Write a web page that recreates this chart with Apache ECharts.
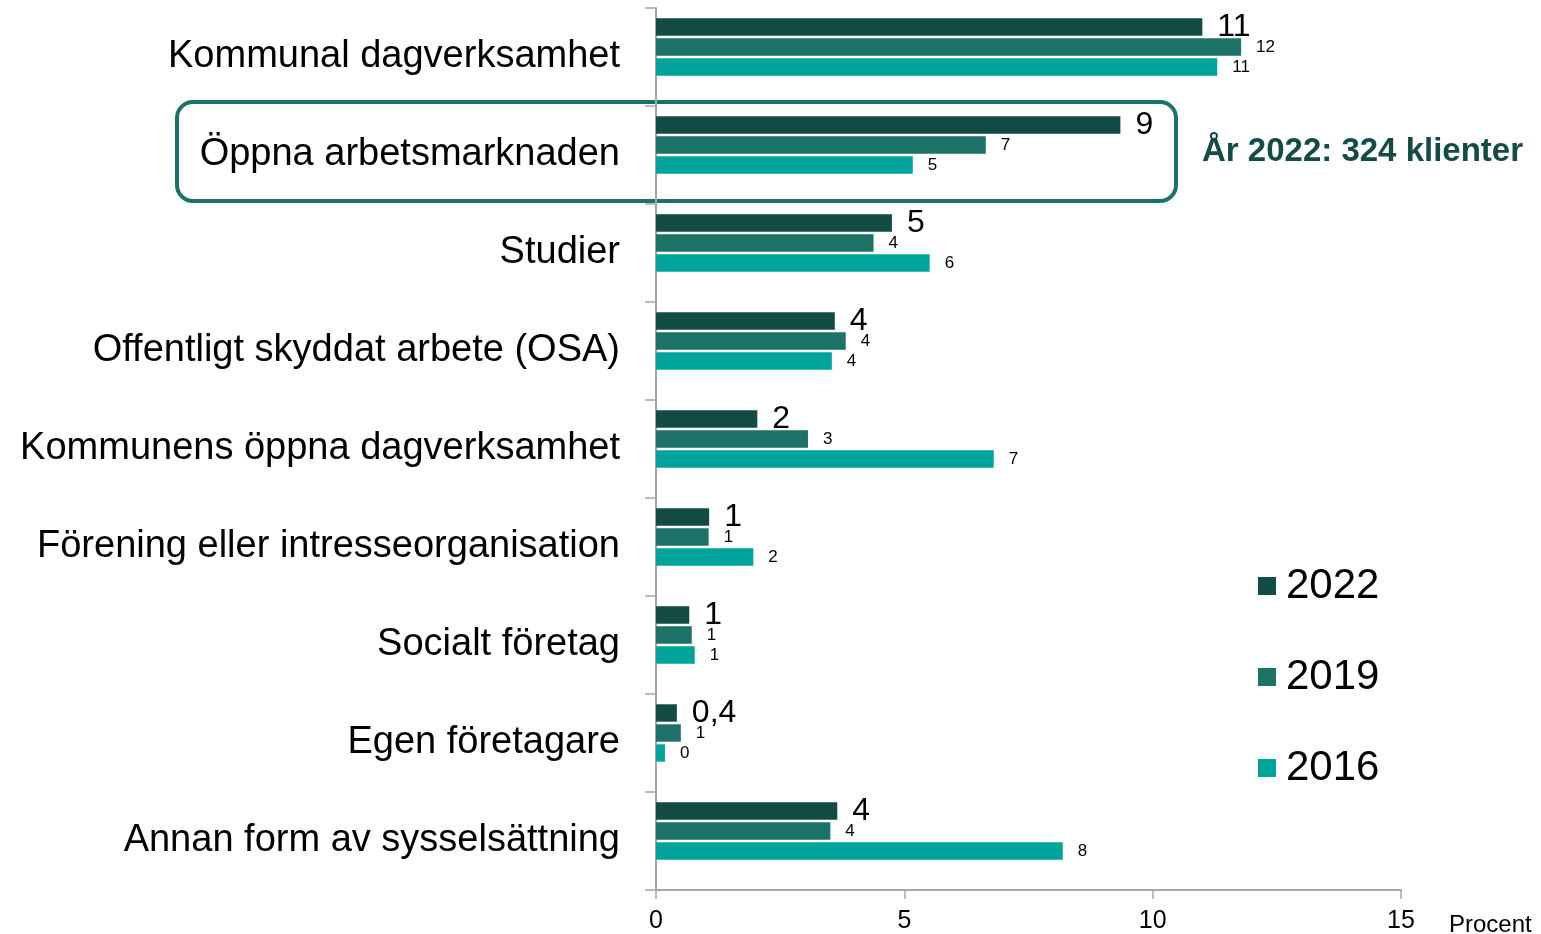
<!DOCTYPE html>
<html>
<head>
<meta charset="utf-8">
<script src="https://cdn.jsdelivr.net/npm/echarts@6/dist/echarts.min.js"></script>
<style>
  html, body { margin: 0; padding: 0; background: #fff; }
  #chart { width: 1541px; height: 934px; }
</style>
</head>
<body>
<div id="chart"></div>
<script>
// kategorier (uppifrån och ned)
var categories = [
  'Kommunal dagverksamhet',
  'Öppna arbetsmarknaden',
  'Studier',
  'Offentligt skyddat arbete (OSA)',
  'Kommunens öppna dagverksamhet',
  'Förening eller intresseorganisation',
  'Socialt företag',
  'Egen företagare',
  'Annan form av sysselsättning'
];
var years = ['2022', '2019', '2016'];

// procent
var values2022 = [11.0, 9.35, 4.75, 3.6, 2.04, 1.07, 0.67, 0.42, 3.65];
var values2019 = [11.78, 6.64, 4.38, 3.82, 3.06, 1.06, 0.72, 0.5, 3.51];
var values2016 = [11.3, 5.17, 5.51, 3.54, 6.8, 1.96, 0.78, 0.18, 8.19];

// etiketter som de står i originalet
var labels2022 = ['11', '9', '5', '4', '2', '1', '1', '0,4', '4'];
var labels2019 = ['12', '7', '4', '4', '3', '1', '1', '1', '4'];
var labels2016 = ['11', '5', '6', '4', '7', '2', '1', '0', '8'];

var xTicks = [0, 5, 10, 15];

var colors = ['#134b45', '#1c7266', '#00a49b'];
var FONT = 'Liberation Sans';

function barSeries(name, values, labels, color, labelSize) {
  return {
    name: name,
    type: 'bar',
    barWidth: 17.4,
    barGap: '15%',
    itemStyle: { color: color },
    label: {
      show: true,
      position: 'right',
      distance: 15,
      color: '#000',
      fontFamily: FONT,
      fontSize: labelSize,
      formatter: function (p) { return labels[p.dataIndex]; }
    },
    data: values
  };
}

var chart = echarts.init(document.getElementById('chart'));
chart.setOption({
  animation: false,
  textStyle: { fontFamily: FONT },
  grid: { left: 656, right: 140, top: 8, bottom: 44, containLabel: false, outerBoundsMode: 'none' },
  legend: {
    orient: 'vertical',
    left: 1258,
    top: 565,
    padding: 0,
    data: years,
    itemWidth: 18,
    itemHeight: 18,
    itemGap: 49,
    icon: 'rect',
    textStyle: { fontFamily: FONT, fontSize: 42, color: '#000', padding: [0, 0, 0, 5] }
  },
  xAxis: {
    type: 'value',
    min: xTicks[0],
    max: xTicks[xTicks.length - 1],
    interval: 5,
    splitLine: { show: false },
    axisLine: { show: true, lineStyle: { color: '#a6a6a6', width: 2 } },
    axisTick: { show: true, length: 9, lineStyle: { color: '#a6a6a6', width: 1.5 } },
    axisLabel: { fontSize: 25, color: '#000', margin: 19, fontFamily: FONT },
    name: 'Procent',
    nameLocation: 'end',
    nameGap: 48,
    nameTextStyle: { fontSize: 24, color: '#000', fontFamily: FONT, verticalAlign: 'top', padding: [23, 0, 0, 0] }
  },
  yAxis: {
    type: 'category',
    inverse: true,
    data: categories,
    axisLine: { show: true, lineStyle: { color: '#a6a6a6', width: 2 } },
    axisTick: { show: true, length: 11, lineStyle: { color: '#a6a6a6', width: 1.5 } },
    axisLabel: { fontSize: 38, color: '#000', margin: 36, fontFamily: FONT, padding: [6, 0, 0, 0] }
  },
  graphic: [
    {
      type: 'rect',
      z: -10,
      shape: { x: 177, y: 102, width: 999, height: 99, r: 16 },
      style: { fill: 'none', stroke: '#1b7266', lineWidth: 4 }
    },
    {
      type: 'text',
      left: 1202,
      top: 135,
      style: {
        text: 'År 2022: 324 klienter',
        fill: '#134b45',
        font: 'bold 33px "Liberation Sans"'
      }
    }
  ],
  series: [
    barSeries(years[0], values2022, labels2022, colors[0], 32),
    barSeries(years[1], values2019, labels2019, colors[1], 17),
    barSeries(years[2], values2016, labels2016, colors[2], 17),
    // tom serie som håller plats under staplarna, som i originalet
    { name: 'spacer', type: 'bar', barWidth: 17.4, barGap: '15%', data: categories.map(function () { return null; }) }
  ]
});
</script>
</body>
</html>
